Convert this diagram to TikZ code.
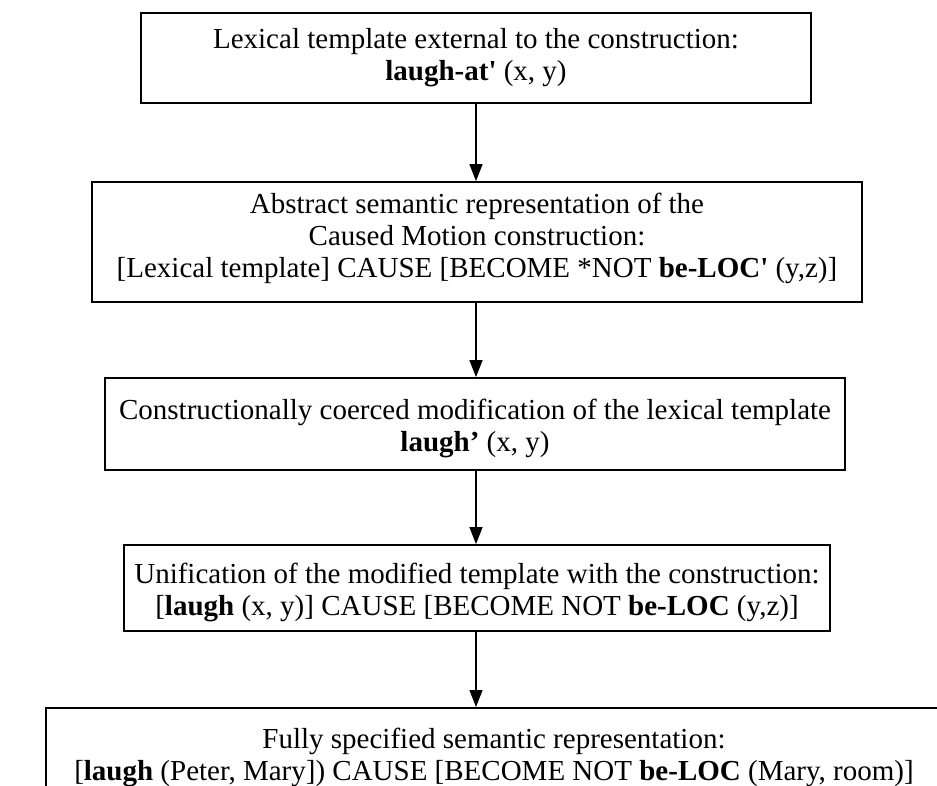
\documentclass[tikz,border=0pt]{standalone}
\usepackage{fontspec}
\setmainfont{Liberation Serif}[Ligatures=TeXOff]
\usetikzlibrary{arrows.meta}
\begin{document}
\begin{tikzpicture}[x=1pt,y=-1pt,
  box/.style={draw, line width=1.8pt, rectangle, inner sep=0pt},
  txt/.style={align=center, font=\fontsize{29}{32}\selectfont, inner sep=0pt},
  arr/.style={line width=1.3pt, -{Triangle[length=17pt,width=13pt]}}]
\clip (0,0) rectangle (937,785);
\coordinate (axis) at (476,0);
% boxes
\node[box, minimum width=670pt, minimum height=90pt]  (b1) at (476,58) {};
\node[box, minimum width=770pt, minimum height=120pt] (b2) at (477,242) {};
\node[box, minimum width=740pt, minimum height=92pt]  (b3) at (475,424) {};
\node[box, minimum width=706pt, minimum height=86pt]  (b4) at (477,588) {};
\node[box, minimum width=950pt, minimum height=150pt, anchor=north west] (b5) at (45,707) {};
% texts
\node[txt] (t1) at (476,58) {Lexical template external to the construction:\\ \textbf{laugh-at'} (x, y)};
\node[txt] (t2) at (477,238) {Abstract semantic representation of the\\ Caused Motion construction:\\ {[}Lexical template] CAUSE [BECOME *NOT \textbf{be-LOC'} (y,z)]};
\node[txt] (t3) at (475,428) {Constructionally coerced modification of the lexical template\\ \textbf{laugh’} (x, y)};
\node[txt] (t4) at (477,592) {Unification of the modified template with the construction:\\ {[}\textbf{laugh} (x, y)] CAUSE [BECOME NOT \textbf{be-LOC} (y,z)]};
\node[txt] (t5) at (494,757) {Fully specified semantic representation:\\ {[}\textbf{laugh} (Peter, Mary]) CAUSE [BECOME NOT \textbf{be-LOC} (Mary, room)]};
% arrows
\draw[arr] (b1.south -| axis) -- (b2.north -| axis);
\draw[arr] (b2.south -| axis) -- (b3.north -| axis);
\draw[arr] (b3.south -| axis) -- (b4.north -| axis);
\draw[arr] (b4.south -| axis) -- (b5.north -| axis);
\end{tikzpicture}
\end{document}
